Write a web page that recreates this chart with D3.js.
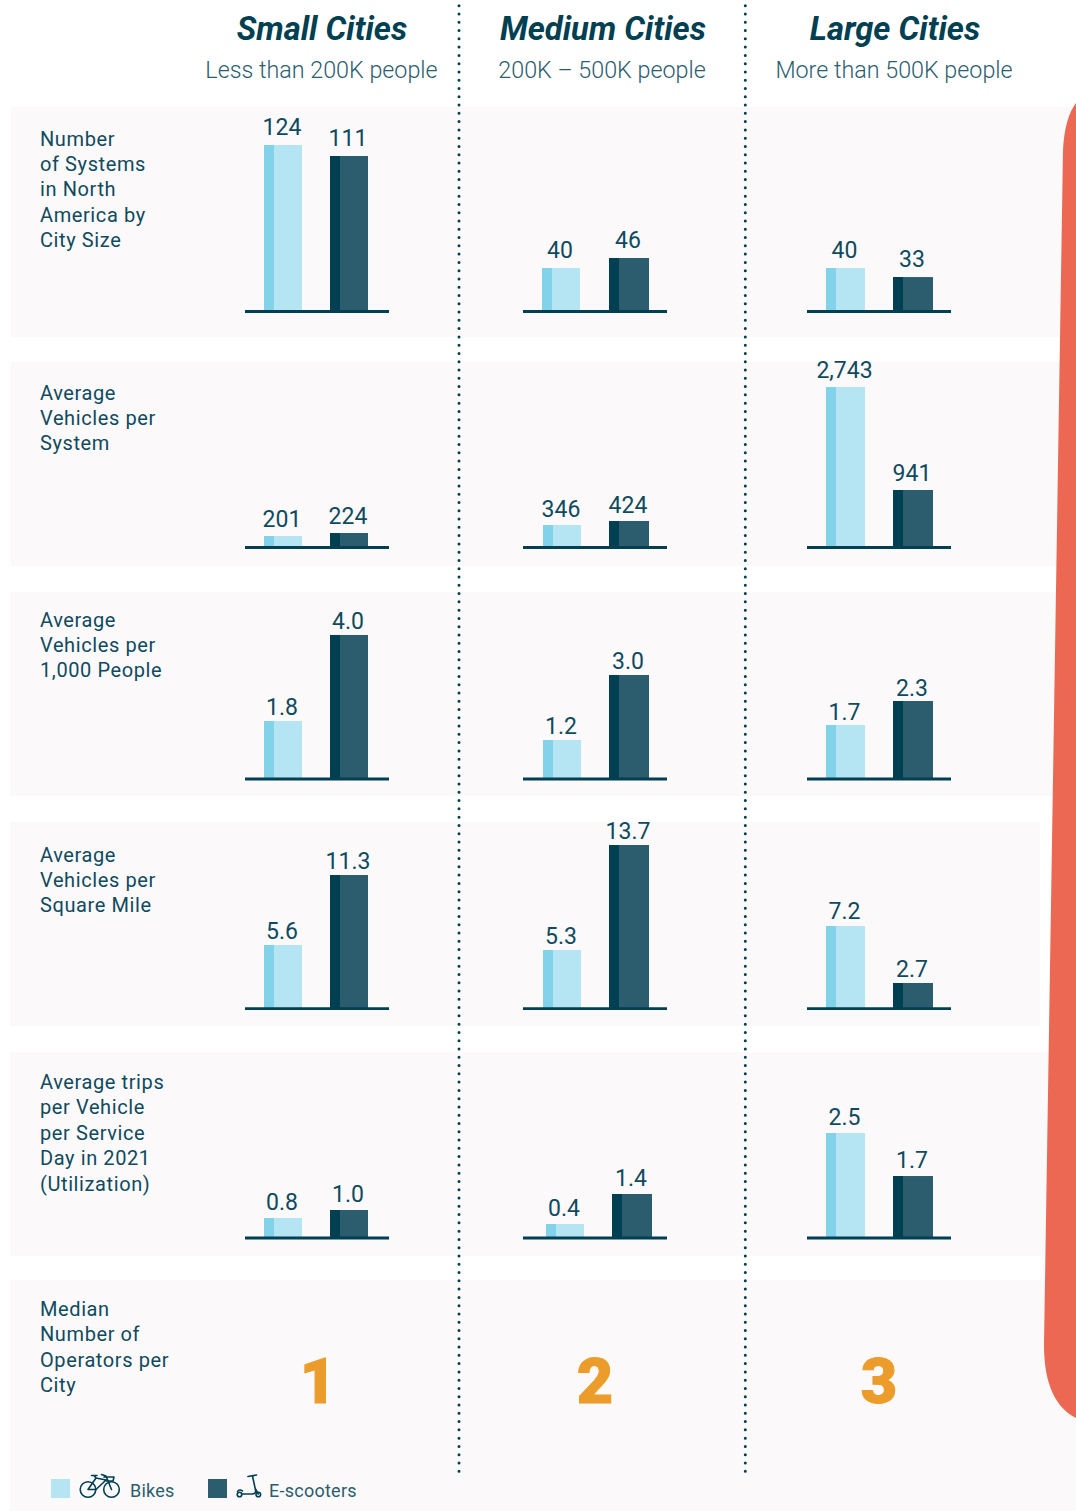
<!DOCTYPE html>
<html><head><meta charset="utf-8">
<script src="https://cdnjs.cloudflare.com/ajax/libs/d3/7.8.5/d3.min.js"></script>
<style>html,body{margin:0;padding:0;background:#fff}svg{display:block}text{font-family:Roboto,sans-serif}</style>
</head><body><div id="chart"></div>
<script>
// ---------- data ----------
const cityTypes = ["Small Cities", "Medium Cities", "Large Cities"];
const cityRanges = ["Less than 200K people", "200K – 500K people", "More than 500K people"];
const seriesNames = ["Bikes", "E-scooters"];
const metricLabels = [
  ["Number", "of Systems", "in North", "America by", "City Size"],
  ["Average", "Vehicles per", "System"],
  ["Average", "Vehicles per", "1,000 People"],
  ["Average", "Vehicles per", "Square Mile"],
  ["Average trips", "per Vehicle", "per Service", "Day in 2021", "(Utilization)"]
];
const operatorLabel = ["Median", "Number of", "Operators per", "City"];
const bikes = [[124, 40, 40], [201, 346, 2743], [1.8, 1.2, 1.7], [5.6, 5.3, 7.2], [0.8, 0.4, 2.5]];
const scooters = [[111, 46, 33], [224, 424, 941], [4.0, 3.0, 2.3], [11.3, 13.7, 2.7], [1.0, 1.4, 1.7]];
const medianOperators = [1, 2, 3];
const valueFormats = [",", ",", ".1f", ".1f", ".1f"];
// every panel of the source has its own (unmarked) value axis
const axisLo = [[-72.8, 13.9, 6.2], [112.8, -92.6, -65], [0.316, 0.12, 0.35], [0.413, 0.604, 0.672], [0.3, -0.067, 0.547]];
const axisHi = [[163.6, 133.9, 161.8], [1646.5, 3807, 3434], [5.432, 5.658, 5.35], [16.7, 16.604, 16.458], [5.3, 6.6, 4.268]];

// ---------- layout ----------
const W = 1076, H = 1511;
const INK = "#0f4a5e", SOFT = "#2b5d6f";
const rowBaselines = [311.5, 547.5, 779, 1008.7, 1238];
const bands = [[11, 107, 1076, 230], [10, 362, 1076, 204], [10, 592, 1076, 204], [10, 822, 1040, 204], [10, 1052, 1076, 204], [10, 1280, 1076, 231]];
const labelTops = [145.5, 399.5, 626.5, 861.5, 1089];
const opLabelTop = 1316;
const colCenters = [322, 603, 895];
const subCenters = [321.5, 602, 894];
const axisSpans = [[245, 389], [523, 667], [807, 951]];
const bikeLeft = [[264, 542, 826], [264, 543, 826], [264, 543, 826], [264, 543, 826], [264, 546, 826]];
const scootLeft = [[330, 609, 893], [330, 609, 893], [330, 609, 893], [330, 609, 893], [330, 612, 893]];
const barWidths = [[38, 38], [38, 40], [39, 40]];
const labelGaps = [10, 8.5, 5.5, 6.5, 8];
const fills = [{ main: "#b5e5f2", edge: "#82d3ea" }, { main: "#2b5d6f", edge: "#013f52" }];
const EDGE = 10, UNIT = 200;

const svg = d3.select("#chart").append("svg").attr("width", W).attr("height", H).attr("viewBox", `0 0 ${W} ${H}`);

// panels background
svg.append("g").selectAll("rect").data(bands).join("rect")
  .attr("x", d => d[0]).attr("y", d => d[1]).attr("width", d => d[2] - d[0]).attr("height", d => d[3]).attr("fill", "#fbf9fa");

// coral decorative shape
svg.append("path").attr("d", "M1076,103 C1069,112 1064,128 1063,150 L1044,1345 C1044,1385 1056,1408 1076,1418 Z").attr("fill", "#ec6852");

// dotted dividers
svg.append("g").selectAll("line").data([459, 745.3]).join("line")
  .attr("x1", d => d).attr("x2", d => d).attr("y1", 5.7).attr("y2", 1473)
  .attr("stroke", "#013f52").attr("stroke-width", 3).attr("stroke-linecap", "round").attr("stroke-dasharray", "0 8.28");

// headers
svg.append("g").selectAll("text").data(cityTypes).join("text")
  .attr("x", (d, i) => colCenters[i]).attr("y", 40).attr("text-anchor", "middle")
  .attr("font-size", 32.7).attr("font-weight", 700).attr("font-style", "italic").attr("fill", "#013f52").text(d => d);
svg.append("g").selectAll("text").data(cityRanges).join("text")
  .attr("x", (d, i) => subCenters[i]).attr("y", 78).attr("text-anchor", "middle")
  .attr("font-size", 23.3).attr("font-weight", 300).attr("fill", SOFT).text(d => d);

// row labels
function rowLabel(lines, top) {
  svg.append("g").selectAll("text").data(lines).join("text")
    .attr("x", 40).attr("y", (d, i) => top + i * 25.4)
    .attr("font-size", 20).attr("letter-spacing", 0.6).attr("fill", INK).text(d => d);
}
metricLabels.forEach((lines, r) => rowLabel(lines, labelTops[r]));
rowLabel(operatorLabel, opLabelTop);

// bars
metricLabels.forEach((_, r) => {
  const fmt = d3.format(valueFormats[r]);
  cityTypes.forEach((__, c) => {
    const y = d3.scaleLinear().domain([axisLo[r][c], axisHi[r][c]]).range([rowBaselines[r], rowBaselines[r] - UNIT]);
    const x = d3.scalePoint().domain(seriesNames).range([bikeLeft[r][c], scootLeft[r][c]]);
    const vals = [bikes[r][c], scooters[r][c]].map((v, i) => ({ name: seriesNames[i], v, i }));
    const g = svg.append("g");
    g.selectAll("rect.main").data(vals).join("rect").attr("class", "main")
      .attr("x", d => x(d.name)).attr("width", d => barWidths[c][d.i])
      .attr("y", d => y(d.v)).attr("height", d => y.range()[0] - y(d.v)).attr("fill", d => fills[d.i].main);
    g.selectAll("rect.edge").data(vals).join("rect").attr("class", "edge")
      .attr("x", d => x(d.name)).attr("width", EDGE)
      .attr("y", d => y(d.v)).attr("height", d => y.range()[0] - y(d.v)).attr("fill", d => fills[d.i].edge);
    g.selectAll("text").data(vals).join("text")
      .attr("x", d => x(d.name) + barWidths[c][d.i] / 2 - 1).attr("y", d => y(d.v) - labelGaps[r])
      .attr("text-anchor", "middle").attr("font-size", 23).attr("fill", INK).text(d => fmt(d.v));
    g.append("line").attr("x1", axisSpans[c][0]).attr("x2", axisSpans[c][1])
      .attr("y1", rowBaselines[r]).attr("y2", rowBaselines[r]).attr("stroke", "#013f52").attr("stroke-width", 2.8);
  });
});

// median operators
svg.append("g").selectAll("text").data(medianOperators).join("text")
  .attr("x", (d, i) => [318, 595, 879][i]).attr("y", 1403).attr("text-anchor", "middle")
  .attr("font-size", 63).attr("font-weight", 900).attr("fill", "#ec9c2b")
  .attr("stroke", "#ec9c2b").attr("stroke-width", 1).text(d => d);

// legend
const leg = svg.append("g");
leg.selectAll("rect").data(fills).join("rect")
  .attr("x", (d, i) => [51, 208][i]).attr("y", 1479).attr("width", 19).attr("height", 19).attr("fill", d => d.main);
leg.selectAll("text").data(seriesNames).join("text")
  .attr("x", (d, i) => [130, 269][i]).attr("y", 1497).attr("font-size", 18).attr("letter-spacing", 0.25)
  .attr("fill", SOFT).text(d => d);
const icon = leg.append("g").attr("fill", "none").attr("stroke", "#013f52").attr("stroke-width", 1.6).attr("stroke-linecap", "round").attr("stroke-linejoin", "round");
// bicycle
icon.append("circle").attr("cx", 88).attr("cy", 1489.5).attr("r", 7.8);
icon.append("circle").attr("cx", 111.5).attr("cy", 1489.5).attr("r", 7.8);
icon.append("path").attr("d", "M88,1489.5 L96,1478 L106,1480 L96,1489.5 Z M96,1478 L94,1475.5 M91.5,1475.5 L97,1475.5 M111.5,1489.5 L106,1476 L101.5,1474.5 M104,1477 L114,1477 L113,1481 L106.5,1481");
// scooter
icon.append("circle").attr("cx", 239.5).attr("cy", 1494.5).attr("r", 2.3);
icon.append("circle").attr("cx", 258.3).attr("cy", 1494.5).attr("r", 2.3);
icon.append("path").attr("d", "M242,1494 L252,1494 C255,1494 256,1492 255.5,1490 L252.5,1476 M248,1476.5 L256.5,1475 M258.3,1494 L255.5,1489 M237.5,1491.5 C238.5,1489.5 241,1489.5 242.5,1491");
</script></body></html>
